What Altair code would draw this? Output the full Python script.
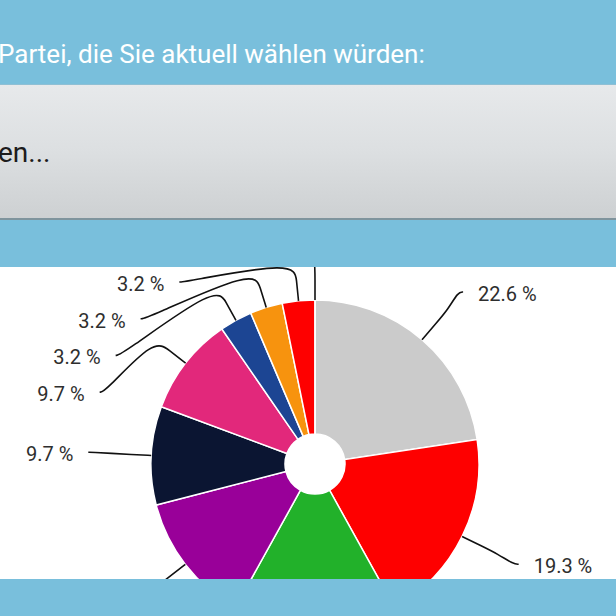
import math
import altair as alt
import pandas as pd

# ---------------- data ----------------
parties = ["Partei A", "Partei B", "Partei C", "Partei D", "Partei E",
           "Partei F", "Partei G", "Partei H", "Partei I", "Partei J"]
values = [22.6, 19.3, 16.1, 12.9, 9.7, 9.7, 3.2, 3.2, 3.2, 0.0]
colors = ["#cbcbcb", "#fe0000", "#22b12a", "#990099", "#0b1532",
          "#e2287b", "#1c4593", "#f7930e", "#fe0000", "#888888"]
header_text = "Partei, die Sie aktuell wählen würden:"
box_text = "en..."

# ---------------- layout ----------------
W = H = 616
BLUE = "#79bfdc"
CX, CY = 315, 464          # pie centre (px)
R_OUT, R_IN = 164, 30
R_LABEL = R_OUT + 63       # label circle
BREAK = 20                 # connector break distance outside the slice
SPACING = 36.7             # min vertical gap between labels
TOP_LEFT = 282             # upper limit for the left label stack
VIS_TOP, VIS_BOTTOM = 267, 579   # white chart panel

df = pd.DataFrame({"party": parties, "value": values, "idx": range(len(parties))})

# ---- label placement derived from slice angles ----
total = sum(values)
cum = 0.0
info = []
for i, v in enumerate(values):
    mid = 2 * math.pi * (cum + v / 2) / total
    cum += v
    side = "left" if math.sin(mid) < -1e-9 else "right"
    ny = CY - R_LABEL * math.cos(mid)
    info.append(dict(i=i, mid=mid, side=side, ny=ny, v=v))

for s in ("left", "right"):
    items = sorted([d for d in info if d["side"] == s and d["v"] > 0], key=lambda d: d["ny"])
    prev = None
    for d in items:
        y = d["ny"]
        if s == "left":
            y = max(y, TOP_LEFT)
        if prev is not None:
            y = max(y, prev + SPACING)
        d["y"] = y
        prev = y
for d in info:
    if "y" not in d:
        d["y"] = d["ny"]

conn_rows, lab_rows = [], []
for d in info:
    sgn = -1 if d["side"] == "left" else 1
    ly = d["y"]
    lx = CX + sgn * math.sqrt(max(R_LABEL ** 2 - (ly - CY) ** 2, 0))
    sx, sy = math.sin(d["mid"]), -math.cos(d["mid"])
    tx, ty = CX + R_OUT * sx, CY + R_OUT * sy
    bx, by = CX + (R_OUT + BREAK) * sx, CY + (R_OUT + BREAK) * sy
    pts = [(lx, ly), (lx - sgn * 5, ly), (2 * bx - tx, 2 * by - ty), (bx, by), (tx, ty)]
    for k, (px, py) in enumerate(pts):
        conn_rows.append(dict(seg=d["i"], k=k, px=px, py=py))
    # only labels that fall inside the visible white panel are drawn
    if d["v"] > 0 and VIS_TOP + 10 < ly < VIS_BOTTOM - 10:
        lab_rows.append(dict(side=d["side"], lx=lx + sgn * 15, ly=ly + 3,
                             label=f"{d['v']:.1f} %"))

conn = pd.DataFrame(conn_rows)
labs = pd.DataFrame(lab_rows)

xs = alt.Scale(domain=[0, W], nice=False, zero=False)
ys = alt.Scale(domain=[0, H], nice=False, zero=False, reverse=True)

def rect(x0, x1, y0, y1, **kw):
    return alt.Chart(df.head(1)).mark_rect(**kw).encode(
        x=alt.value(x0), x2=alt.value(x1), y=alt.value(y0), y2=alt.value(y1))

white_area = rect(0, W, VIS_TOP, VIS_BOTTOM, fill="white")

arcs = alt.Chart(df).mark_arc(outerRadius=R_OUT, innerRadius=R_IN,
                              stroke="white", strokeWidth=1.5).encode(
    theta=alt.Theta("value:Q", stack=True),
    color=alt.Color("party:N", scale=alt.Scale(domain=parties, range=colors), legend=None),
    order=alt.Order("idx:Q"),
    x=alt.value(CX), y=alt.value(CY))

lines = alt.Chart(conn).mark_line(interpolate="basis", color="#111111", strokeWidth=1.6).encode(
    x=alt.X("px:Q", scale=xs, axis=None),
    y=alt.Y("py:Q", scale=ys, axis=None),
    detail="seg:N", order="k:Q")

lab_r = alt.Chart(labs).transform_filter("datum.side == 'right'").mark_text(
    font="Roboto", fontSize=20, color="#2e2e2e", align="left", baseline="middle").encode(
    x=alt.X("lx:Q", scale=xs, axis=None), y=alt.Y("ly:Q", scale=ys, axis=None), text="label:N")
lab_l = alt.Chart(labs).transform_filter("datum.side == 'left'").mark_text(
    font="Roboto", fontSize=20, color="#2e2e2e", align="right", baseline="middle").encode(
    x=alt.X("lx:Q", scale=xs, axis=None), y=alt.Y("ly:Q", scale=ys, axis=None), text="label:N")

top_band = rect(0, W, 0, VIS_TOP, fill=BLUE)
grey_box = rect(0, W, 85, 219, fill=alt.Gradient(
    gradient="linear", x1=0, x2=0, y1=0, y2=1,
    stops=[alt.GradientStop(color="#e7e9eb", offset=0),
           alt.GradientStop(color="#dcdfe1", offset=0.5),
           alt.GradientStop(color="#cdd0d2", offset=1)]))
box_top_line = rect(0, W, 84, 85, fill="#8fbfd4")
box_bottom_line = rect(0, W, 218, 220, fill="#7f949d")
bottom_band = rect(0, W, VIS_BOTTOM, H, fill=BLUE)

header = alt.Chart(df.head(1)).mark_text(
    text=header_text, font="Roboto", fontSize=26, color="white",
    align="left", baseline="middle").encode(x=alt.value(-2), y=alt.value(55))
box_label = alt.Chart(df.head(1)).mark_text(
    text=box_text, font="Roboto", fontSize=28, color="#1c1c1c",
    align="left", baseline="middle").encode(x=alt.value(-2), y=alt.value(154))

chart = alt.layer(
    white_area, arcs, lines, lab_r, lab_l,
    top_band, grey_box, box_top_line, box_bottom_line, header, box_label,
    bottom_band
).properties(
    width=W, height=H, background=BLUE, padding=0, autosize="none"
).configure_view(stroke=None)

chart.save("out.html", embed_options={"renderer": "svg", "actions": False})
